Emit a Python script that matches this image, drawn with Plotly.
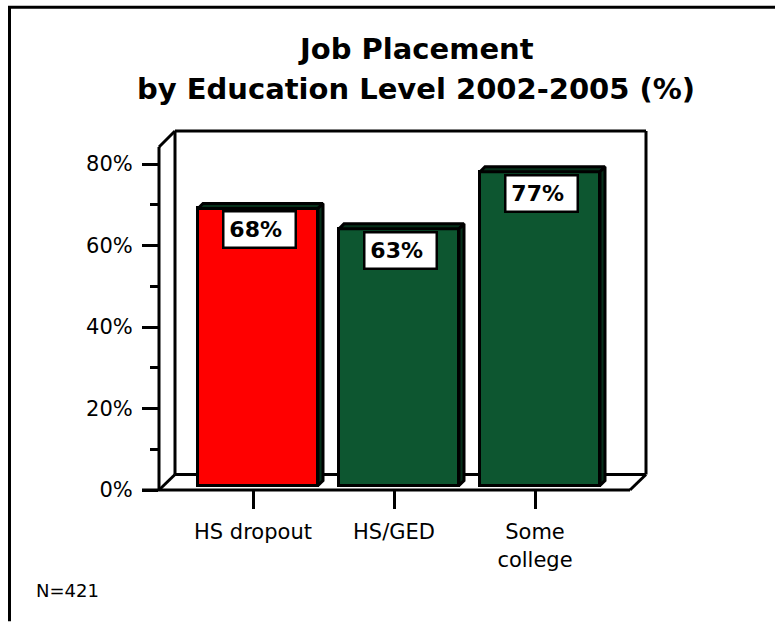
import plotly.graph_objects as go

categories = ["HS dropout", "HS/GED", "Some<br>college"]
values = [68, 63, 77]
bar_colors = ["#ff0000", "#0d5630", "#0d5630"]
y_ticks = [0, 20, 40, 60, 80]
y_tick_labels = ["0%", "20%", "40%", "60%", "80%"]
title_lines = ["Job Placement", "by Education Level 2002-2005 (%)"]
note = "N=421"

W, H = 775, 622
L, R, T, B = 159, 646, 131, 490.5
PX_PER_CAT = 141
TICK0 = 253
PX_PER_PCT = 4.08
xmin = (L - TICK0) / PX_PER_CAT
xmax = (R - TICK0) / PX_PER_CAT
ymax = (B - T) / PX_PER_PCT
bar_w = 120 / PX_PER_CAT
bar_off = 5 / PX_PER_CAT
base = 1.1
dx = 5 / PX_PER_CAT
dy = 5 / PX_PER_PCT
DARK = "#06301a"
FONT = "DejaVu Sans"
x_pos = list(range(len(categories)))

fig = go.Figure()

def px(x):
    return (x - L) / (R - L)
def py(y):
    return (B - y) / (B - T)

frame = [
    (159, 490.5, 159, 147),
    (159, 147, 175, 131),
    (175, 131, 646, 131),
    (646, 131, 646, 475),
    (175, 131, 175, 475),
    (175, 475, 646, 475),
    (159, 490.5, 175, 475),
    (142, 490.5, 630, 490.5),
    (630, 490.5, 646, 475),
]
shapes = [dict(type="line", xref="paper", yref="paper", x0=px(a), y0=py(b), x1=px(c), y1=py(d),
               line=dict(color="black", width=3), layer="below") for a, b, c, d in frame]
# outer page frame: left and top edges only
for a, b, c, d in [(9.5, 622, 9.5, 7), (8, 7, 775, 7)]:
    shapes.append(dict(type="line", xref="paper", yref="paper", x0=px(a), y0=py(b), x1=px(c), y1=py(d),
                       line=dict(color="black", width=3), layer="below"))

fig.add_trace(go.Bar(
    x=x_pos, y=values, base=[base] * len(values),
    width=bar_w, offset=-bar_w / 2 + bar_off,
    marker=dict(color=bar_colors, line=dict(color="black", width=3)),
    hoverinfo="skip", showlegend=False,
))

for xc, v in zip(x_pos, values):
    x0 = xc - bar_w / 2 + bar_off
    x1 = x0 + bar_w
    top = v + base
    fig.add_trace(go.Scatter(
        x=[x0, x1, x1 + dx, x0 + dx, x0], y=[top, top, top + dy, top + dy, top],
        mode="lines", fill="toself", fillcolor=DARK, line=dict(color="black", width=3),
        hoverinfo="skip", showlegend=False))
    fig.add_trace(go.Scatter(
        x=[x1, x1 + dx, x1 + dx, x1, x1], y=[base, base + dy, top + dy, top, base],
        mode="lines", fill="toself", fillcolor=DARK, line=dict(color="black", width=3),
        hoverinfo="skip", showlegend=False))

annotations = []
for xc, v in zip(x_pos, values):
    annotations.append(dict(
        x=xc + bar_off, y=v + base, xref="x", yref="y", yanchor="top", xanchor="center",
        xshift=1.5, yshift=-2, text=f"<b>{v}%&nbsp;</b>", showarrow=False,
        font=dict(family=FONT, size=22, color="black"),
        bgcolor="white", bordercolor="black", borderwidth=2.5,
        width=68, height=32, align="center", valign="middle"))
annotations.append(dict(
    x=px(34), y=py(591), xref="paper", yref="paper", xanchor="left", yanchor="middle",
    text=note, showarrow=False, font=dict(family=FONT, size=18, color="black")))
for line, ypx in zip(title_lines, [49, 89]):
    annotations.append(dict(
        x=px(416), y=py(ypx), xref="paper", yref="paper", xanchor="center", yanchor="middle",
        text=f"<b>{line}</b>", showarrow=False,
        font=dict(family=FONT, size=29, color="black"), align="center"))

fig.update_layout(
    width=W, height=H, autosize=False,
    margin=dict(l=L, r=W - R, t=T, b=H - B, pad=0),
    paper_bgcolor="white", plot_bgcolor="white",
    shapes=shapes, annotations=annotations,
    bargap=0,
    xaxis=dict(range=[xmin, xmax], tickmode="array", tickvals=x_pos, ticktext=categories,
               ticks="outside", ticklen=18, tickwidth=2.5, tickcolor="black",
               showgrid=False, zeroline=False, showline=False, ticklabelstandoff=5,
               tickfont=dict(family=FONT, size=21, color="black")),
    yaxis=dict(range=[0, ymax], tickmode="array", tickvals=y_ticks, ticktext=y_tick_labels,
               ticks="outside", ticklen=16, tickwidth=2.5, tickcolor="black",
               minor=dict(tickmode="array", tickvals=[10, 30, 50, 70], ticks="outside",
                          ticklen=8, tickwidth=2.5, tickcolor="black", showgrid=False),
               showgrid=False, zeroline=False, showline=False, ticklabelstandoff=5,
               tickfont=dict(family=FONT, size=21, color="black")),
)

fig.write_html("out.html", config={"displayModeBar": False},
               post_script="document.body.style.margin='0';")
